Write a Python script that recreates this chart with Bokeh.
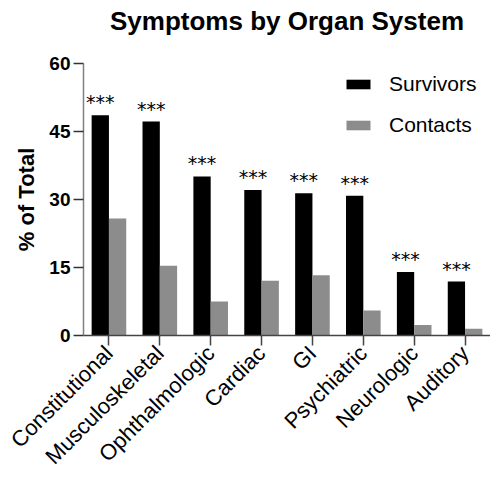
import math
from bokeh.plotting import figure
from bokeh.models import ColumnDataSource, FactorRange, Range1d, FixedTicker, Legend, LegendItem, Title
from bokeh.transform import dodge
from bokeh.core.properties import value
from bokeh.embed import file_html
from bokeh.resources import INLINE

categories = ["Constitutional", "Musculoskeletal", "Ophthalmologic", "Cardiac",
              "GI", "Psychiatric", "Neurologic", "Auditory"]
survivors = [48.6, 47.2, 35.1, 32.1, 31.4, 30.8, 14.0, 11.9]
contacts = [25.8, 15.4, 7.5, 12.1, 13.3, 5.5, 2.3, 1.5]
significance = ["***"] * 8
y_ticks = [0, 15, 30, 45, 60]
title_text = "Symptoms by Organ System"

src = ColumnDataSource(dict(cat=categories, surv=survivors, cont=contacts, sig=significance))

FONT = "Liberation Sans"

p = figure(width=490, height=480, x_range=FactorRange(factors=categories),
           y_range=Range1d(0, 60), output_backend="svg", toolbar_location=None,
           min_border_left=83, min_border_right=0, min_border_top=63, min_border_bottom=138)

# spacer panel between the frame and the title
spacer = Title(text=" ", text_font_size="10px", standoff=15)
p.add_layout(spacer, "above")
main_title = Title(text=title_text, text_font=FONT, text_font_size="26px",
                   text_font_style="bold", text_color="#000000", align="center", standoff=0)
p.add_layout(main_title, "above")

r1 = p.vbar(x=dodge("cat", -0.17, range=p.x_range), top="surv", width=0.34,
            source=src, fill_color="#000000", line_color=None)
r2 = p.vbar(x=dodge("cat", 0.17, range=p.x_range), top="cont", width=0.34,
            source=src, fill_color="#8c8c8c", line_color=None)

p.text(x=dodge("cat", -0.17, range=p.x_range), y="surv", text="sig", source=src,
       text_font=value("DejaVu Sans"), text_font_size="19px", text_align="center",
       text_baseline="alphabetic", y_offset=-13, text_color="#000000")

p.xgrid.visible = False
p.ygrid.visible = False
p.outline_line_color = None

# y axis
p.yaxis.ticker = FixedTicker(ticks=y_ticks)
p.yaxis.axis_label = "% of Total"
p.yaxis.axis_label_text_font = FONT
p.yaxis.axis_label_text_font_size = "22px"
p.yaxis.axis_label_text_font_style = "bold"
p.yaxis.axis_label_text_color = "#000000"
p.yaxis.axis_label_standoff = 7
p.yaxis.major_label_text_font = FONT
p.yaxis.major_label_text_font_size = "19px"
p.yaxis.major_label_text_font_style = "bold"
p.yaxis.major_label_text_color = "#000000"
p.yaxis.major_label_standoff = 3
p.yaxis.major_tick_out = 10
p.yaxis.major_tick_in = 0
p.yaxis.minor_tick_out = 0
p.yaxis.minor_tick_in = 0
p.yaxis.axis_line_color = "#808080"
p.yaxis.axis_line_width = 1.5
p.yaxis.major_tick_line_color = "#333333"
p.yaxis.major_tick_line_width = 1.5

# x axis
p.xaxis.major_label_orientation = math.pi / 4
p.xaxis.major_label_text_font = FONT
p.xaxis.major_label_text_font_size = "22px"
p.xaxis.major_label_text_color = "#000000"
p.xaxis.major_label_standoff = 4
p.xaxis.major_tick_out = 10
p.xaxis.major_tick_in = 0
p.xaxis.axis_line_color = "#444444"
p.xaxis.axis_line_width = 1.5
p.xaxis.major_tick_line_color = "#444444"
p.xaxis.major_tick_line_width = 1.5

legend = Legend(items=[LegendItem(label="Survivors", renderers=[r1]),
                       LegendItem(label="Contacts", renderers=[r2])],
                location=(260, 198))
legend.glyph_width = 30
legend.glyph_height = 12
legend.label_height = 24
legend.spacing = 17
legend.label_standoff = 16
legend.padding = 0
legend.margin = 0
legend.border_line_color = None
legend.background_fill_alpha = 0
legend.label_text_font = FONT
legend.label_text_font_size = "21px"
legend.label_text_color = "#000000"
p.add_layout(legend, "center")

open("out.html", "w").write(file_html(p, INLINE))
